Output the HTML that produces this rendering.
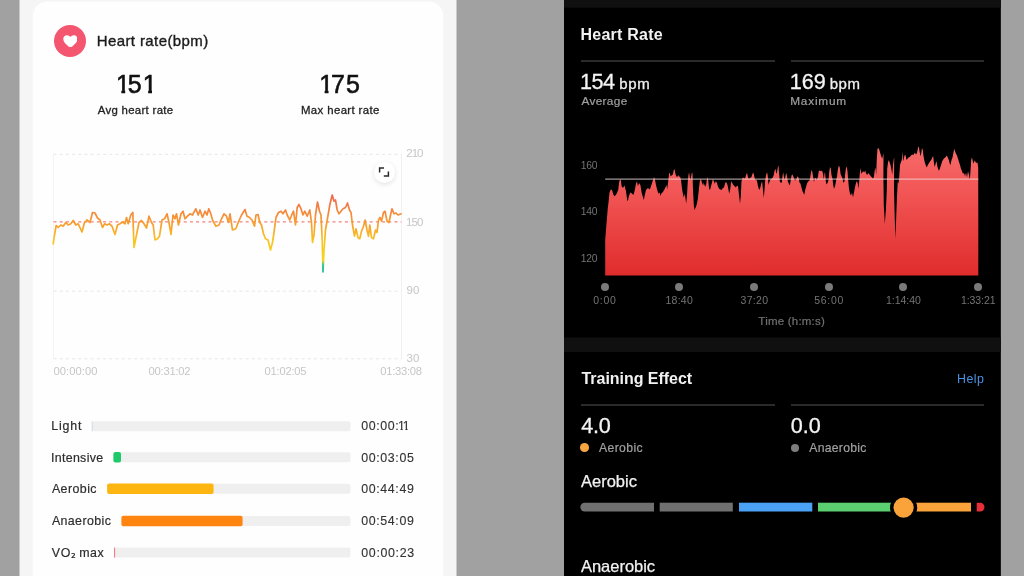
<!DOCTYPE html>
<html lang="en">
<head>
<meta charset="utf-8">
<title>Heart rate comparison</title>
<style>
*{margin:0;padding:0;box-sizing:border-box}
html,body{width:1024px;height:576px;overflow:hidden;background:#a1a1a1}
body{position:relative;filter:blur(0.3px);font-family:"Liberation Sans",Arial,sans-serif;-webkit-font-smoothing:antialiased}
.t{position:absolute;white-space:nowrap;line-height:1}
/* left phone */
#lp{position:absolute;left:19.4px;top:0;width:437.1px;height:576px;background:#f5f5f5}
#card{position:absolute;left:32.2px;top:1px;width:411px;height:600px;background:#fefefe;border-radius:13px}
#hc{position:absolute;left:53.7px;top:24.6px;width:32.6px;height:32.6px;border-radius:50%;background:#f4566f}
.dk{color:#1a1a1a;-webkit-text-stroke:0.35px #1a1a1a}
.big{font-size:24.5px;color:#111;-webkit-text-stroke:0.6px #111}
.big span{position:absolute;top:0}
.one{clip-path:polygon(0 0,100% 0,100% 70%,9.3px 70%,9.3px 100%,5.5px 100%,5.5px 70%,0 70%)}
.o1{display:inline-block;letter-spacing:0;clip-path:polygon(0 0,100% 0,100% 70%,0.385em 70%,0.385em 100%,0.21em 100%,0.21em 70%,0 70%)}
.sub{font-size:11px;color:#222;-webkit-text-stroke:0.3px #222}
.ax{font-size:10.5px;color:#c6c6c6}
.lab{font-size:12.6px;color:#2c2c2c;-webkit-text-stroke:0.18px #2c2c2c}
.tm{-webkit-text-stroke:0.12px #333 !important;color:#333}
.trk{position:absolute;height:10px;background:#efefef;border-radius:2px}
.bar{position:absolute;height:10.5px;border-radius:2px}
/* right phone */
#rp{position:absolute;left:564.3px;top:0;width:436.7px;height:576px;background:#000}
#rtop{position:absolute;left:564.3px;top:0;width:436.7px;height:7.8px;background:#131313}
#rsep{position:absolute;left:564.3px;top:337.3px;width:436.7px;height:14.5px;background:#131313}
.hd{font-size:15px;font-weight:bold;color:#f2f2f2}
.dv{position:absolute;height:2px;background:#2a2a2a}
.num{font-size:21.5px;color:#f4f4f4;-webkit-text-stroke:0.3px #f4f4f4}
.unit{font-size:14px;color:#f0f0f0;-webkit-text-stroke:0.3px #f0f0f0}
.gs{font-size:11.5px;color:#a0a0a0;-webkit-text-stroke:0.2px #a0a0a0}
.rax{font-size:10.5px;color:#747474}
.dot{position:absolute;width:8px;height:8px;border-radius:50%;background:#7a7a7a}
.seg{position:absolute;top:502.5px;height:9px}
</style>
</head>
<body>
<svg style="position:absolute;left:0;top:0" width="1024" height="576" viewBox="0 0 1024 576">
  <rect x="19.5" y="0" width="437" height="576" fill="#f5f5f5"/>
  <rect x="32.8" y="1.6" width="410.5" height="600" rx="14.5" fill="#fefefe"/>
  <rect x="564" y="0" width="436.85" height="576" fill="#000"/>
  <rect x="564" y="0" width="436.85" height="7.7" fill="#101010"/>
  <rect x="564" y="337.5" width="436.85" height="14.5" fill="#101010"/>
</svg>
<div id="hc"></div>
<svg style="position:absolute;left:62.6px;top:34.9px" width="14.8" height="12.6" viewBox="0 0 24 20.5"><path fill="#fff" d="M12 20.3 C11.2 20.3 9.6 19 7.2 16.9 C3.6 13.8 0.4 10.8 0.4 6.6 C0.4 3 3 0.4 6.4 0.4 C8.8 0.4 10.8 1.6 12 3.4 C13.2 1.6 15.2 0.4 17.6 0.4 C21 0.4 23.6 3 23.6 6.6 C23.6 10.8 20.4 13.8 16.8 16.9 C14.4 19 12.8 20.3 12 20.3 Z"/></svg>
<span class="t dk" id="l_title" style="left:96.7px;top:33px;font-size:15.0px;letter-spacing:0.4px">Heart rate(bpm)</span>
<span class="t big" id="l_151" style="left:0;top:72px;font-size:25px"><span class="one" style="left:115.9px">1</span><span style="left:127.7px">5</span><span class="one" style="left:142.7px">1</span></span>
<span class="t big" id="l_175" style="left:0;top:72px;font-size:25px"><span class="one" style="left:319.2px">1</span><span style="left:330.9px;letter-spacing:0">7</span><span style="left:345.95px">5</span></span>
<span class="t sub" id="l_avg" style="left:97.75px;top:105px;font-size:11.4px;letter-spacing:0.31px">Avg heart rate</span>
<span class="t sub" id="l_max" style="left:301.0px;top:105px;font-size:11.4px;letter-spacing:0.38px">Max heart rate</span>

<!-- left chart -->
<svg style="position:absolute;left:0;top:0" width="1024" height="576" viewBox="0 0 1024 576">
  <defs>
    <linearGradient id="hg" gradientUnits="userSpaceOnUse" x1="0" y1="194" x2="0" y2="273">
      <stop offset="0" stop-color="#ee6658"/>
      <stop offset="0.2" stop-color="#f4853e"/>
      <stop offset="0.4" stop-color="#f7a22c"/>
      <stop offset="0.6" stop-color="#f8c522"/>
      <stop offset="0.84" stop-color="#f6d420"/>
      <stop offset="0.9" stop-color="#3cc890"/>
      <stop offset="1" stop-color="#12c0a4"/>
    </linearGradient>
    <linearGradient id="rg" gradientUnits="userSpaceOnUse" x1="0" y1="147" x2="0" y2="275">
      <stop offset="0" stop-color="#f76a6a"/>
      <stop offset="0.35" stop-color="#f25555"/>
      <stop offset="1" stop-color="#e02c2c"/>
    </linearGradient>
  </defs>
  <g stroke="#e6e6e6" stroke-width="1" stroke-dasharray="3 3.2" fill="none">
    <line x1="53.5" y1="154.3" x2="401.5" y2="154.3"/>
    <line x1="53.5" y1="291.2" x2="401.5" y2="291.2"/>
    <line x1="53.5" y1="358.8" x2="401.5" y2="358.8"/>
  </g>
  <line x1="53.5" y1="154" x2="53.5" y2="359" stroke="#f4f4f4" stroke-width="1"/>
  <line x1="401.5" y1="154" x2="401.5" y2="359" stroke="#f1f1f1" stroke-width="1"/>
  <line x1="53.5" y1="221.8" x2="401.5" y2="221.8" stroke="#f2827c" stroke-width="1.3" stroke-dasharray="3 3.2"/>
  <polyline fill="none" stroke="url(#hg)" stroke-width="1.7" stroke-linejoin="round" stroke-linecap="round" points="53.2,243.8 54.5,235.0 56.2,225.5 58.2,227.5 60.8,225.0 63.2,226.2 65.8,222.5 68.2,225.0 70.8,223.8 73.2,220.5 75.8,225.0 78.2,223.8 82.0,232.0 84.5,222.5 87.0,220.0 90.0,222.5 92.5,212.5 95.0,213.0 97.5,218.0 100.0,220.0 102.5,227.5 104.5,223.8 107.0,225.0 109.5,223.8 112.0,226.2 115.0,234.5 117.5,225.0 120.0,223.8 122.5,222.0 125.0,223.8 126.5,217.5 128.2,223.8 130.8,215.0 132.8,212.5 134.0,247.5 136.5,235.0 139.0,222.5 141.5,220.5 144.0,223.8 146.5,228.0 149.0,216.2 151.5,222.5 153.2,225.0 155.0,240.0 157.5,238.8 159.5,236.2 162.0,220.0 164.5,218.8 167.0,213.8 169.0,222.5 171.0,234.5 173.0,215.0 175.0,218.8 176.5,213.8 178.5,225.0 181.0,213.8 183.0,211.2 185.0,218.8 187.5,216.2 190.0,213.8 192.5,215.0 195.8,208.8 198.2,215.0 200.0,210.0 202.5,217.5 205.0,211.2 207.0,215.0 208.8,208.8 210.8,213.8 212.5,220.0 215.8,226.2 219.0,225.0 221.5,218.8 224.0,213.8 226.5,216.2 228.5,222.5 230.0,213.8 232.5,230.0 235.8,228.8 238.2,222.5 241.5,215.0 245.0,209.5 247.0,216.2 249.5,217.5 252.0,220.0 254.5,226.2 256.0,215.0 258.0,214.5 259.8,222.5 261.5,225.0 263.5,233.8 265.5,238.8 268.0,240.0 270.5,250.0 272.5,242.5 274.0,232.5 276.0,217.5 278.5,212.5 281.0,211.2 283.0,213.8 285.5,210.0 287.2,215.0 289.8,220.0 292.2,213.8 293.5,211.2 295.5,225.0 297.2,207.5 299.0,204.5 301.0,208.8 303.0,215.0 304.8,211.2 307.2,216.2 309.8,210.0 311.5,222.5 312.5,242.5 314.0,235.0 315.5,215.0 317.5,202.0 319.5,211.2 321.0,215.0 322.2,240.0 323.0,272.0 324.0,250.0 325.5,230.0 327.2,220.0 329.8,205.0 332.2,195.0 334.0,201.2 335.5,200.0 337.2,210.0 339.0,213.8 341.0,211.2 343.0,208.8 345.5,207.5 347.5,203.0 349.5,210.0 351.0,212.5 352.5,225.0 354.5,236.2 356.0,228.8 358.0,237.5 359.8,238.8 361.5,231.2 363.5,226.2 365.2,220.0 367.0,230.0 368.5,236.2 369.8,225.0 371.5,237.5 373.5,238.8 375.5,230.0 377.0,232.5 378.5,220.0 380.0,217.5 381.5,221.2 383.5,212.5 385.0,211.2 387.0,221.2 389.0,222.5 390.5,215.0 392.0,208.8 394.0,213.8 396.0,213.0 398.0,215.0 401.0,213.8"/>
  <!-- right chart -->
  <path d="M605.2,275.4 L605.2,240.0 L606.3,226.0 L607.8,208.0 L608.5,202.5 L609.5,192.5 L610.8,189.4 L612.0,190.0 L613.5,195.0 L614.8,196.2 L616.6,193.8 L618.2,190.0 L619.1,182.5 L620.0,179.4 L620.8,180.0 L621.6,186.2 L622.9,188.1 L624.5,185.6 L626.0,191.2 L627.2,200.0 L627.9,201.2 L628.8,196.2 L630.4,192.5 L632.2,193.8 L633.5,195.0 L634.8,190.0 L636.0,183.8 L637.0,181.2 L637.9,186.2 L639.1,183.1 L640.4,185.0 L641.6,192.5 L642.9,196.9 L643.8,200.0 L644.8,195.0 L646.0,190.0 L647.9,188.1 L649.8,189.4 L651.0,186.2 L652.2,182.5 L653.2,179.4 L654.1,176.9 L655.0,180.0 L656.0,185.0 L657.2,190.0 L658.5,193.8 L659.8,192.5 L660.5,196.2 L661.2,193.8 L662.9,191.9 L664.1,190.0 L665.4,187.5 L666.6,185.0 L667.2,189.4 L668.2,181.2 L669.1,173.8 L669.8,172.5 L670.5,176.2 L671.6,175.6 L672.9,174.4 L673.8,170.0 L674.5,169.0 L675.2,173.1 L676.2,176.2 L677.2,176.9 L678.2,175.0 L679.2,176.9 L680.0,176.2 L681.0,180.0 L682.0,188.8 L682.9,193.8 L683.8,197.5 L684.8,193.8 L685.5,198.8 L686.2,203.8 L687.0,195.0 L687.8,181.2 L688.5,175.0 L689.1,172.2 L689.8,177.5 L690.5,180.0 L691.2,176.2 L692.0,172.2 L692.5,173.8 L693.0,190.0 L693.8,205.0 L694.5,210.0 L695.4,208.1 L696.6,205.0 L697.9,198.8 L698.8,190.0 L699.8,181.2 L700.8,178.8 L701.6,181.2 L702.5,185.0 L703.2,182.5 L704.1,186.2 L705.0,183.8 L705.8,187.5 L706.6,181.2 L707.5,176.9 L708.2,180.0 L709.1,188.8 L710.0,190.0 L711.0,186.2 L712.0,182.5 L712.9,178.8 L713.8,181.2 L714.8,183.8 L715.8,181.2 L716.8,182.5 L717.9,186.2 L719.1,188.8 L720.4,189.4 L721.6,190.0 L722.9,188.1 L724.0,187.5 L725.2,183.1 L726.2,181.9 L727.5,185.0 L728.5,190.0 L729.2,193.8 L730.2,189.4 L731.2,181.2 L732.2,183.1 L733.4,185.0 L734.6,186.2 L735.9,187.5 L737.1,185.6 L738.0,186.2 L739.0,195.0 L740.0,203.8 L740.8,196.2 L741.5,181.2 L742.8,177.5 L743.8,178.1 L745.0,178.8 L746.2,174.4 L747.1,173.1 L748.0,177.5 L749.0,178.8 L750.2,178.1 L751.5,176.9 L752.5,173.8 L753.4,172.5 L754.2,176.2 L755.2,180.0 L756.2,179.4 L757.1,181.2 L758.0,186.2 L759.2,190.0 L760.2,188.1 L761.2,183.8 L762.1,181.2 L763.0,190.0 L763.8,198.1 L764.5,190.0 L765.2,180.0 L766.2,174.4 L767.1,172.2 L767.8,176.2 L768.5,185.0 L769.2,182.5 L770.2,180.0 L771.5,178.8 L772.8,177.5 L773.8,175.0 L774.6,170.6 L775.5,168.8 L776.2,173.8 L777.0,172.5 L777.8,167.5 L778.5,165.6 L779.0,172.5 L779.8,181.2 L780.9,183.1 L781.8,182.5 L782.5,176.2 L783.2,172.2 L784.0,177.5 L784.8,180.0 L785.5,176.2 L786.2,172.8 L787.0,176.2 L787.8,181.2 L788.8,183.8 L789.8,185.6 L790.8,180.0 L791.5,175.6 L792.5,174.4 L793.5,176.9 L794.5,180.0 L795.5,180.6 L796.5,178.8 L797.5,176.2 L798.5,177.5 L799.5,182.5 L800.5,183.8 L801.5,187.5 L802.5,191.2 L803.5,193.1 L804.2,195.0 L805.2,190.0 L806.2,186.2 L807.2,183.1 L808.5,181.2 L809.8,180.0 L810.8,173.8 L811.5,170.0 L812.2,171.2 L813.0,176.2 L814.0,181.9 L815.0,177.5 L816.0,178.8 L817.0,180.0 L818.0,176.2 L818.8,171.2 L819.8,170.6 L821.0,171.2 L822.0,170.6 L823.0,173.8 L823.8,180.0 L824.5,173.8 L825.0,171.9 L825.8,181.2 L826.5,184.4 L827.5,183.1 L828.5,180.0 L829.2,172.5 L830.0,166.9 L830.8,168.8 L831.5,175.0 L832.5,178.8 L833.2,185.0 L834.0,188.8 L835.0,186.2 L836.0,181.2 L837.0,176.2 L837.8,170.0 L838.8,165.6 L839.8,167.5 L840.5,173.8 L841.5,176.2 L842.5,178.8 L843.5,183.1 L844.5,181.2 L845.2,173.8 L846.0,168.1 L846.8,166.5 L847.5,171.2 L848.2,180.0 L849.0,188.8 L850.0,193.8 L851.0,195.6 L852.0,192.5 L853.0,197.5 L854.0,192.5 L855.2,186.2 L856.5,181.2 L857.5,182.5 L858.5,188.8 L859.2,181.2 L860.0,171.2 L860.5,168.1 L861.2,173.8 L862.2,172.5 L863.2,171.2 L864.2,172.5 L865.2,170.6 L866.2,173.8 L867.2,175.0 L868.2,173.1 L869.5,174.4 L870.8,176.2 L872.0,177.5 L873.0,178.8 L874.0,176.2 L874.8,170.0 L875.5,167.5 L876.2,175.0 L876.8,158.8 L877.5,148.8 L878.2,148.1 L879.2,149.4 L880.2,153.1 L881.2,156.2 L882.2,158.8 L883.0,155.0 L883.5,153.8 L883.4,177.5 L883.8,205.0 L884.8,224.0 L885.9,210.0 L886.8,190.0 L887.2,168.8 L888.0,162.5 L888.8,160.0 L889.5,161.9 L890.5,165.0 L891.5,170.0 L892.2,175.0 L893.0,165.0 L893.8,158.8 L894.2,157.5 L894.0,190.0 L894.5,210.0 L895.4,239.0 L896.2,217.5 L897.0,196.2 L897.8,181.2 L898.5,183.8 L899.2,177.5 L900.0,165.0 L900.8,162.5 L901.8,160.0 L902.5,151.2 L903.0,161.2 L903.8,158.8 L904.5,155.6 L905.5,155.0 L906.5,160.0 L907.5,158.8 L908.5,157.5 L909.8,156.9 L911.0,155.6 L912.2,154.4 L913.5,155.0 L914.8,152.5 L916.0,154.4 L917.0,153.1 L918.0,148.1 L918.8,146.2 L919.5,151.2 L920.5,156.2 L921.2,153.8 L922.0,148.1 L922.8,150.0 L923.5,156.2 L924.5,161.2 L925.8,165.6 L926.8,167.5 L927.8,165.0 L929.0,163.1 L930.2,161.2 L931.5,159.4 L932.5,156.9 L933.2,156.2 L934.0,163.8 L934.8,166.9 L935.8,163.1 L936.5,161.2 L937.5,166.9 L938.5,170.0 L939.2,170.6 L940.2,167.5 L941.2,164.4 L942.2,161.2 L943.2,159.4 L944.5,158.1 L945.8,156.9 L946.8,155.6 L947.8,157.5 L948.8,160.0 L949.8,163.8 L950.5,165.0 L951.5,160.0 L952.5,157.5 L953.5,152.5 L954.2,148.8 L955.0,151.2 L956.0,153.8 L957.0,155.6 L958.0,158.8 L959.0,161.9 L960.0,165.0 L961.0,168.8 L962.0,171.2 L963.0,173.8 L964.0,173.1 L965.0,176.2 L966.0,172.5 L967.0,177.5 L968.0,171.2 L969.0,175.0 L969.8,180.0 L970.5,171.2 L971.2,160.0 L972.0,157.5 L972.8,161.2 L973.5,163.8 L974.5,160.6 L975.5,161.9 L976.5,163.1 L977.5,162.5 L978.2,167.5 L978.3,222 L978.3,275.4 Z" fill="url(#rg)"/>
  <line x1="605.2" y1="179.1" x2="978.3" y2="179.1" stroke="#efdcdc" stroke-width="1" opacity="0.85"/>
</svg>
<div style="position:absolute;left:373.5px;top:161.5px;width:21px;height:21px;border-radius:50%;background:#fff;box-shadow:0 1.5px 5px rgba(0,0,0,0.11)"></div>
<svg style="position:absolute;left:374px;top:162px" width="20" height="20" viewBox="0 0 20 20"><path d="M5.6 10.4 V6 H10 M14.4 9.4 V14 H9.8" fill="none" stroke="#2a2a2a" stroke-width="1.5"/></svg>

<span class="t ax" id="y210" style="left:406.25px;top:148px;font-size:11.5px;letter-spacing:-1.0px">210</span>
<span class="t ax" id="y150" style="left:406.0px;top:217px;font-size:11.5px;letter-spacing:-0.88px">150</span>
<span class="t ax" id="y90" style="left:406.41px;top:285px;font-size:11.5px;letter-spacing:0.15px">90</span>
<span class="t ax" id="y30" style="left:406.41px;top:353px;font-size:11.5px;letter-spacing:0.15px">30</span>
<span class="t ax" id="x0" style="left:53.5px;top:366px;font-size:11.2px;letter-spacing:0.06px">00:00:00</span>
<span class="t ax" id="x1" style="left:148.5px;top:366px;font-size:11.2px;letter-spacing:-0.21px">00:31:02</span>
<span class="t ax" id="x2" style="left:264.5px;top:366px;font-size:11.2px;letter-spacing:-0.21px">01:02:05</span>
<span class="t ax" id="x3" style="left:380.25px;top:366px;font-size:11.2px;letter-spacing:-0.25px">01:33:08</span>

<!-- zones -->
<svg style="position:absolute;left:0;top:0" width="1024" height="576" viewBox="0 0 1024 576">
  <rect x="92.0" y="421.25" width="258.5" height="10" rx="2" fill="#efefef"/>
  <rect x="113.4" y="452.30" width="237.1" height="10" rx="2" fill="#efefef"/>
  <rect x="107.1" y="483.85" width="243.4" height="10" rx="2" fill="#efefef"/>
  <rect x="121.4" y="515.90" width="229.1" height="10" rx="2" fill="#efefef"/>
  <rect x="114.3" y="547.60" width="236.2" height="10" rx="2" fill="#efefef"/>
  <rect x="91.7" y="421.2" width="1" height="10.2" fill="#c9dcec"/>
  <rect x="113.4" y="452" width="7.6" height="10.5" rx="2" fill="#1ec96a"/>
  <rect x="107.1" y="483.6" width="106.5" height="10.5" rx="2" fill="#fdb512"/>
  <rect x="121.4" y="515.65" width="121.2" height="10.5" rx="2" fill="#ff8410"/>
  <rect x="114.1" y="547.5" width="1" height="10.2" fill="#f2707a"/>
  <path d="M584.7,502.7 H654 V511.5 H584.7 A4.4,4.4 0 0 1 584.7,502.7 Z" fill="#707070"/>
  <rect x="659.7" y="502.7" width="73.1" height="8.8" fill="#707070"/>
  <rect x="739" y="502.7" width="73.3" height="8.8" fill="#4ba2f4"/>
  <rect x="818" y="502.7" width="73" height="8.8" fill="#5bce70"/>
  <rect x="897" y="502.7" width="74" height="8.8" fill="#fba33b"/>
  <path d="M976.7,502.7 H980.1 A4.4,4.4 0 0 1 980.1,511.5 H976.7 Z" fill="#e62f39"/>
  <circle cx="903.6" cy="507.6" r="13.6" fill="#000"/>
  <circle cx="903.6" cy="507.6" r="10.1" fill="#fba33b"/>
</svg>
<span class="t lab" id="z1" style="left:51.16px;top:420px;font-size:12.4px;letter-spacing:0.85px">Light</span>
<span class="t lab" id="z2" style="left:50.91px;top:452px;font-size:12.4px;letter-spacing:0.33px">Intensive</span>
<span class="t lab" id="z3" style="left:51.91px;top:483px;font-size:12.4px;letter-spacing:0.44px">Aerobic</span>
<span class="t lab" id="z4" style="left:51.91px;top:515px;font-size:12.4px;letter-spacing:0.39px">Anaerobic</span>
<span class="t lab" id="z5" style="left:51.81px;top:547px;font-size:12.4px;letter-spacing:0.59px">VO<span style="font-family:'DejaVu Sans',sans-serif;font-size:12px;letter-spacing:-0.6px;position:relative;top:1.2px">₂</span> max</span>
<span class="t lab tm" id="t1" style="left:361.31px;top:420px;font-size:12.4px;letter-spacing:0.61px">00:00:<span class="o1" style="margin-left:-1.5px">1</span><span class="o1" style="margin-left:-2px">1</span></span>
<span class="t lab tm" id="t2" style="left:361.31px;top:452px;font-size:12.4px;letter-spacing:0.61px">00:03:05</span>
<span class="t lab tm" id="t3" style="left:361.31px;top:483px;font-size:12.4px;letter-spacing:0.61px">00:44:49</span>
<span class="t lab tm" id="t4" style="left:361.31px;top:515px;font-size:12.4px;letter-spacing:0.61px">00:54:09</span>
<span class="t lab tm" id="t5" style="left:361.31px;top:547px;font-size:12.4px;letter-spacing:0.66px">00:00:23</span>

<!-- right phone -->
<span class="t hd" id="r_title" style="left:580.5px;top:27px;font-size:16.0px;letter-spacing:0.24px">Heart Rate</span>
<div class="dv" style="left:581px;top:60px;width:193.6px"></div>
<div class="dv" style="left:790.5px;top:60px;width:193.7px"></div>
<span class="t num" id="r154" style="left:580.0px;top:71px;font-size:21.6px;letter-spacing:-0.5px">154</span>
<span class="t unit" id="rb1" style="left:619.25px;top:76px;font-size:15.0px;letter-spacing:0.62px">bpm</span>
<span class="t num" id="r169" style="left:789.75px;top:71px;font-size:21.6px">169</span>
<span class="t unit" id="rb2" style="left:829.75px;top:76px;font-size:15.0px;letter-spacing:0.5px">bpm</span>
<span class="t gs" id="ravg" style="left:581.5px;top:96px;font-size:11.8px;letter-spacing:0.33px">Average</span>
<span class="t gs" id="rmax" style="left:790.25px;top:96px;font-size:11.8px;letter-spacing:0.79px">Maximum</span>
<span class="t rax" id="ry160" style="left:580.75px;top:161px;font-size:10.3px;letter-spacing:-0.25px">160</span>
<span class="t rax" id="ry140" style="left:580.75px;top:207px;font-size:10.3px;letter-spacing:-0.25px">140</span>
<span class="t rax" id="ry120" style="left:580.75px;top:254px;font-size:10.3px;letter-spacing:-0.25px">120</span>
<div class="dot" style="left:600.5px;top:283px"></div>
<div class="dot" style="left:675.1px;top:283px"></div>
<div class="dot" style="left:749.8px;top:283px"></div>
<div class="dot" style="left:824.6px;top:283px"></div>
<div class="dot" style="left:899.3px;top:283px"></div>
<div class="dot" style="left:974px;top:283px"></div>
<span class="t rax" id="rx0" style="left:593.25px;top:295px;font-size:10.5px;letter-spacing:0.72px">0:00</span>
<span class="t rax" id="rx1" style="left:665.5px;top:295px;font-size:10.5px;letter-spacing:0.25px">18:40</span>
<span class="t rax" id="rx2" style="left:740.5px;top:295px;font-size:10.5px;letter-spacing:0.31px">37:20</span>
<span class="t rax" id="rx3" style="left:814.25px;top:295px;font-size:10.5px;letter-spacing:0.69px">56:00</span>
<span class="t rax" id="rx4" style="left:886.0px;top:295px;font-size:10.5px;letter-spacing:-0.04px">1:14:40</span>
<span class="t rax" id="rx5" style="left:961.0px;top:295px;font-size:10.5px;letter-spacing:-0.08px">1:33:21</span>
<span class="t gs" id="rtime" style="left:758.36px;top:316px;font-size:11.5px;letter-spacing:0.21px;color:#727272;-webkit-text-stroke:0.2px #727272">Time (h:m:s)</span>

<span class="t hd" id="r_te" style="left:581.5px;top:371px;font-size:16.0px;letter-spacing:-0.04px">Training Effect</span>
<span class="t" id="r_help" style="left:957.0px;top:373px;font-size:12.4px;letter-spacing:0.5px;color:#4a90e0">Help</span>
<div class="dv" style="left:581px;top:404px;width:193.6px"></div>
<div class="dv" style="left:790.5px;top:404px;width:193.7px"></div>
<span class="t num" id="r40" style="left:581.16px;top:415px;font-size:21.6px;letter-spacing:-0.15px">4.0</span>
<span class="t num" id="r00" style="left:790.7px;top:415px;font-size:21.6px;letter-spacing:-0.03px">0.0</span>
<div class="dot" style="left:580.2px;top:443.2px;width:8.7px;height:8.7px;background:#f8a440"></div>
<div class="dot" style="left:790.7px;top:443.5px;width:8.2px;height:8.2px;background:#7e7e7e"></div>
<span class="t gs" id="r_aer" style="left:599.0px;top:442px;font-size:12.2px;letter-spacing:0.38px">Aerobic</span>
<span class="t gs" id="r_ana" style="left:809.25px;top:442px;font-size:12.2px;letter-spacing:0.28px">Anaerobic</span>
<span class="t" id="r_aerh" style="left:581.0px;top:473px;font-size:16.5px;color:#f2f2f2;-webkit-text-stroke:0.25px #f2f2f2">Aerobic</span>
<span class="t" id="r_anah" style="left:581.0px;top:558px;font-size:16.5px;letter-spacing:-0.03px;color:#f2f2f2;-webkit-text-stroke:0.25px #f2f2f2">Anaerobic</span>
</body>
</html>
